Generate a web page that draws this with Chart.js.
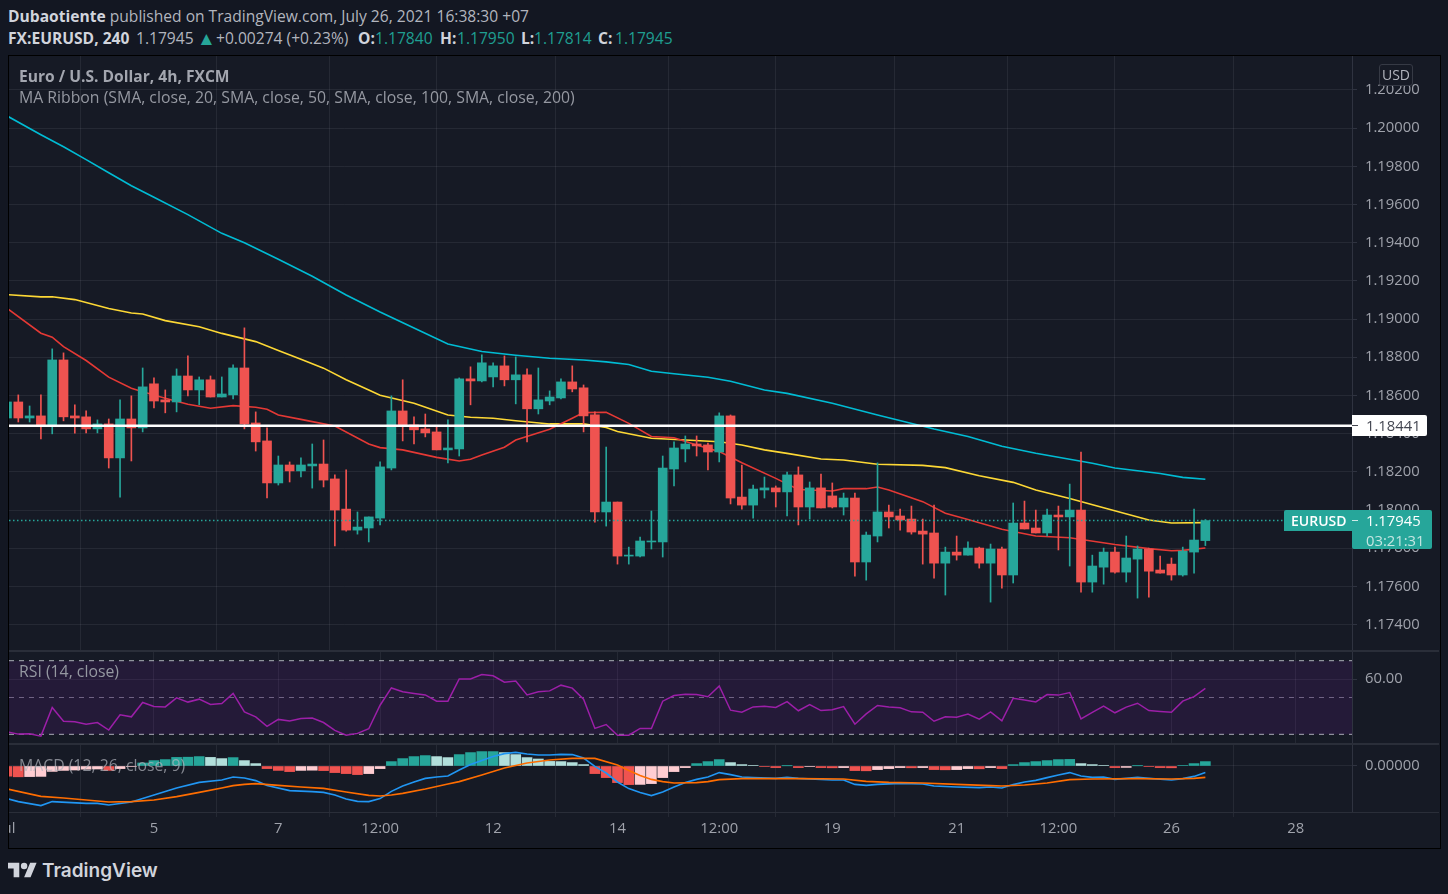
<!DOCTYPE html>
<html><head><meta charset="utf-8">
<script src="https://cdn.jsdelivr.net/npm/chart.js@4"></script>
<style>
html,body{margin:0;padding:0;background:#131722;width:1448px;height:894px;overflow:hidden;font-family:"Open Sans",sans-serif;}
.t{position:absolute;white-space:nowrap;font-size:14.8px;line-height:20px;}
.h{font-size:15.6px;}
canvas{position:absolute;}
.b{font-weight:700}
.g{color:#1f9e91}
.w{color:#d1d4dc;font-weight:700}
.ln{position:absolute;background:#2a2e39}
#h2 span{position:absolute;top:0;}
</style></head><body>
<div style="position:absolute;left:8px;top:55px;width:1431px;height:792px;border:1px solid #000;box-sizing:content-box;background:#161a25"></div>
<div class="t h" id="h1" style="left:8px;top:6px;color:#b2b5be"><span class="b" style="color:#d1d4dc">Dubaotiente</span> published on TradingView.com, July 26, 2021 16:38:30 +07</div>
<div class="t h" id="h2" style="left:8px;top:28px;color:#b2b5be;width:680px;height:20px">
<span class="w" style="left:0">FX:EURUSD, 240</span><span style="left:128px">1.17945</span><span style="left:189px;color:#26a69a;font-size:19px">▲</span><span style="left:208px">+0.00274 (+0.23%)</span><span class="w" style="left:350px">O:</span><span class="g" style="left:367px">1.17840</span><span class="w" style="left:432px">H:</span><span class="g" style="left:449px">1.17950</span><span class="w" style="left:513px">L:</span><span class="g" style="left:526px">1.17814</span><span class="w" style="left:590px">C:</span><span class="g" style="left:607px">1.17945</span></div>
<canvas id="cPrice" width="1430" height="595" style="left:9px;top:56px;width:1430px;height:595px"></canvas>
<canvas id="cRsi" width="1430" height="93" style="left:9px;top:651px;width:1430px;height:93px"></canvas>
<canvas id="cMacd" width="1430" height="103" style="left:9px;top:744px;width:1430px;height:103px"></canvas>
<div class="ln" style="left:9px;top:650px;width:1430px;height:2px"></div>
<div class="ln" style="left:9px;top:743px;width:1430px;height:2px"></div>
<div class="ln" style="left:9px;top:812px;width:1430px;height:1px"></div>
<div class="t b h" style="left:19px;top:66px;color:#a3a6af">Euro / U.S. Dollar, 4h, FXCM</div>
<div class="t" style="left:19px;top:87px;color:#9598a1;font-size:15.8px">MA Ribbon (SMA, close, 20, SMA, close, 50, SMA, close, 100, SMA, close, 200)</div>
<div class="t" style="left:19px;top:661px;color:#9598a1;font-size:15.8px">RSI (14, close)</div>
<div class="t" style="left:19px;top:755px;color:rgba(178,181,190,.7);font-size:15.8px">MACD (12, 26, close, 9)</div>
<div class="t" style="left:1379px;top:64px;width:32px;height:20px;border:1px solid #363a45;border-radius:3px;text-align:center;color:#b2b5be;background:#161a25;font-size:14px">USD</div>
<div class="t" style="left:1352px;top:415px;width:75px;height:21px;background:#fff;border-radius:0 2px 2px 0;color:#434651;line-height:21px"><span style="position:absolute;left:0;top:10px;width:6px;height:1px;background:#434651"></span><span style="position:absolute;left:14px;top:0">1.18441</span></div>
<div class="t" style="left:1284px;top:510px;width:148px;height:21px;background:#26a69a;border-radius:2px 2px 0 0;color:#fff;line-height:21px"><span style="position:absolute;left:7px;top:0;font-size:14px;font-weight:600">EURUSD</span><span style="position:absolute;left:68px;top:10px;width:6px;height:1px;background:#cfeae7"></span><span style="position:absolute;left:82px;top:0">1.17945</span></div>
<div class="t" style="left:1352px;top:531px;width:80px;height:18px;background:#26a69a;border-radius:0 0 2px 2px;color:#c4e6e2;line-height:18px"><span style="position:absolute;left:14px;top:0">03:21:31</span></div>
<svg style="position:absolute;left:8px;top:862px" width="29" height="16" viewBox="0 4 36 18"><path fill="#d1d4dc" d="M14 22H7V11H0V4h14v18zM28 22h-8l7.5-18h8L28 22z"/><circle fill="#d1d4dc" cx="20" cy="8" r="4"/></svg>
<div class="t" style="left:42px;top:859px;font-family:Inter,sans-serif;font-weight:600;font-size:19px;line-height:24px;color:#d1d4dc">TradingView</div>
<script>
const opens=[1.18482,1.18566,1.18482,1.18493,1.18440,1.18786,1.18493,1.18488,1.18425,1.18451,1.18273,1.18477,1.18430,1.18661,1.18577,1.18566,1.18702,1.18629,1.18682,1.18592,1.18603,1.18744,1.18456,1.18362,1.18142,1.18236,1.18205,1.18231,1.18241,1.18163,1.18005,1.17895,1.17906,1.17958,1.18220,1.18519,1.18446,1.18425,1.18409,1.18315,1.18320,1.18687,1.18676,1.18697,1.18755,1.18682,1.18708,1.18530,1.18571,1.18587,1.18671,1.18640,1.18498,1.17990,1.18042,1.17759,1.17759,1.17833,1.17833,1.18215,1.18320,1.18346,1.18341,1.18304,1.18493,1.18068,1.18026,1.18105,1.18116,1.18095,1.18184,1.18016,1.18116,1.18074,1.18016,1.18063,1.17728,1.17864,1.17990,1.17969,1.17953,1.17890,1.17880,1.17722,1.17780,1.17764,1.17801,1.17722,1.17796,1.17660,1.17932,1.17906,1.17880,1.17974,1.17964,1.18000,1.17623,1.17701,1.17780,1.17675,1.17743,1.17796,1.17686,1.17717,1.17660,1.17780,1.17840];
const closes=[1.18566,1.18482,1.18493,1.18440,1.18786,1.18488,1.18482,1.18425,1.18451,1.18273,1.18477,1.18430,1.18645,1.18571,1.18566,1.18702,1.18629,1.18682,1.18592,1.18608,1.18744,1.18451,1.18357,1.18142,1.18236,1.18205,1.18236,1.18241,1.18157,1.18000,1.17895,1.17911,1.17964,1.18226,1.18519,1.18440,1.18420,1.18404,1.18315,1.18325,1.18687,1.18676,1.18771,1.18755,1.18682,1.18708,1.18530,1.18577,1.18592,1.18671,1.18634,1.18493,1.17990,1.18042,1.17759,1.17764,1.17838,1.17838,1.18220,1.18325,1.18346,1.18336,1.18304,1.18493,1.18063,1.18026,1.18110,1.18116,1.18095,1.18184,1.18016,1.18116,1.18011,1.18016,1.18063,1.17728,1.17869,1.17990,1.17964,1.17948,1.17885,1.17874,1.17722,1.17780,1.17764,1.17801,1.17722,1.17796,1.17660,1.17932,1.17901,1.17880,1.17974,1.17964,1.18000,1.17623,1.17707,1.17780,1.17675,1.17749,1.17796,1.17680,1.17670,1.17660,1.17785,1.17843,1.17945];
const highs=[1.18577,1.18603,1.18545,1.18603,1.18844,1.18823,1.18551,1.18519,1.18472,1.18477,1.18577,1.18598,1.18744,1.18692,1.18629,1.18739,1.18807,1.18697,1.18702,1.18697,1.18760,1.18954,1.18514,1.18430,1.18283,1.18252,1.18273,1.18346,1.18367,1.18184,1.18210,1.17990,1.17964,1.18252,1.18598,1.18682,1.18488,1.18503,1.18440,1.18472,1.18692,1.18750,1.18813,1.18771,1.18807,1.18802,1.18739,1.18744,1.18624,1.18687,1.18755,1.18655,1.18514,1.18330,1.18042,1.17806,1.17859,1.17995,1.18283,1.18357,1.18388,1.18388,1.18351,1.18509,1.18498,1.18236,1.18131,1.18173,1.18126,1.18199,1.18226,1.18147,1.18189,1.18142,1.18089,1.18089,1.17885,1.18247,1.18026,1.18005,1.18021,1.17953,1.18026,1.17806,1.17864,1.17833,1.17806,1.17822,1.17806,1.18037,1.18047,1.18000,1.18005,1.18021,1.18136,1.18304,1.17764,1.17801,1.17806,1.17864,1.17812,1.17801,1.17759,1.17749,1.17806,1.18005,1.17950];
const lows=[1.18472,1.18461,1.18461,1.18372,1.18399,1.18467,1.18402,1.18404,1.18404,1.18220,1.18068,1.18257,1.18409,1.18535,1.18509,1.18514,1.18598,1.18551,1.18592,1.18592,1.18582,1.18425,1.18309,1.18063,1.18131,1.18147,1.18173,1.18115,1.18121,1.17812,1.17890,1.17874,1.17833,1.17922,1.18210,1.18362,1.18346,1.18383,1.18315,1.18247,1.18283,1.18551,1.18671,1.18645,1.18650,1.18556,1.18357,1.18503,1.18551,1.18582,1.18619,1.18409,1.17937,1.17916,1.17717,1.17717,1.17754,1.17796,1.17754,1.18126,1.18252,1.18283,1.18210,1.18252,1.18032,1.18005,1.17958,1.18063,1.18016,1.17969,1.17922,1.17953,1.18011,1.18011,1.17974,1.17654,1.17633,1.17833,1.17906,1.17895,1.17874,1.17717,1.17644,1.17555,1.17738,1.17764,1.17696,1.17518,1.17591,1.17618,1.17901,1.17880,1.17864,1.17791,1.17707,1.17570,1.17570,1.17612,1.17670,1.17623,1.17539,1.17544,1.17670,1.17633,1.17654,1.17670,1.17814];
const candleIdx=opens.map((_,i)=>i);

const sma20Idx=[0,3,4,5,7,9,11,12,14,16,18,20,22,23,24,26,27,29,32,33,35,38,40,41,42,44,45,48,50,51,53,55,57,59,61,63,65,68,70,73,74,76,77,78,81,83,85,88,91,94,98,101,103,104,106];
const sma20=[1.19057,1.18926,1.18905,1.18856,1.18783,1.18696,1.18638,1.18620,1.18585,1.18554,1.18533,1.18547,1.18538,1.18528,1.18498,1.18475,1.18463,1.18440,1.18346,1.18327,1.18315,1.18276,1.18257,1.18266,1.18288,1.18329,1.18367,1.18423,1.18481,1.18510,1.18512,1.18454,1.18385,1.18379,1.18341,1.18306,1.18248,1.18166,1.18108,1.18100,1.18112,1.18112,1.18121,1.18105,1.18044,1.17983,1.17951,1.17899,1.17864,1.17855,1.17820,1.17798,1.17787,1.17789,1.17801];
const sma50Idx=[0,3,4,6,9,11,12,14,17,19,22,24,26,28,30,32,33,36,39,41,43,45,48,51,53,54,57,60,63,65,67,69,72,74,77,81,83,86,89,91,94,97,101,103,106];
const sma50=[1.19128,1.19116,1.19117,1.19102,1.19055,1.19032,1.19027,1.18992,1.18960,1.18925,1.18882,1.18835,1.18790,1.18743,1.18682,1.18629,1.18601,1.18559,1.18498,1.18486,1.18481,1.18468,1.18451,1.18451,1.18432,1.18411,1.18376,1.18367,1.18358,1.18341,1.18315,1.18297,1.18267,1.18262,1.18240,1.18234,1.18222,1.18180,1.18145,1.18105,1.18061,1.18012,1.17948,1.17932,1.17934];
const sma100Idx=[0,3,5,7,9,11,13,16,19,21,24,27,30,33,36,39,42,45,48,51,53,55,57,59,62,64,67,69,73,77,82,85,88,91,94,96,98,102,104,106];
const sma100=[1.20064,1.19965,1.19902,1.19835,1.19766,1.19698,1.19638,1.19547,1.19449,1.19400,1.19313,1.19224,1.19126,1.19037,1.18953,1.18869,1.18830,1.18811,1.18795,1.18786,1.18776,1.18762,1.18727,1.18714,1.18695,1.18674,1.18629,1.18611,1.18559,1.18498,1.18424,1.18385,1.18334,1.18297,1.18266,1.18245,1.18220,1.18191,1.18171,1.18161];

const keyLevel=1.18441, lastPrice=1.17945;
const priceTicks=[1.174,1.176,1.178,1.18,1.182,1.184,1.186,1.188,1.19,1.192,1.194,1.196,1.198,1.2,1.202];
const timeTickIdx=[0,13,24,33,43,54,63,73,84,93,103,114];
const timeTickLabels=["Jul","5","7","12:00","12","14","12:00","19","21","12:00","26","28"];

const rsi=[31.4,30.1,30.3,29.0,44.6,37.1,36.8,35.5,36.4,32.3,40.6,39.5,47.3,45.1,44.9,49.8,47.5,49.1,46.2,46.7,52.2,42.2,39.5,34.3,38.1,37.3,38.6,38.8,36.4,32.1,29.5,30.5,33.0,45.8,55.2,53.1,52.2,51.4,48.0,48.0,60.1,60.1,62.5,61.8,58.3,59.0,51.4,53.1,53.6,56.7,55.1,49.1,33.2,35.3,29.5,29.5,33.2,33.2,48.0,51.1,51.8,51.6,50.4,56.3,43.1,42.0,44.9,45.3,44.6,47.8,42.8,46.2,42.9,43.3,45.1,35.5,41.1,45.7,44.9,44.4,42.2,42.0,37.1,39.5,39.3,41.0,38.2,42.2,37.3,49.6,48.7,47.6,51.6,51.3,52.7,38.4,41.9,45.3,41.7,44.8,46.9,42.9,42.4,42.0,48.0,50.5,54.9];
const rsiUpper=70, rsiMid=50, rsiLower=30, rsiTicks=[60];

// MACD pane values in units of 0.00001
const macdHist=[-51,-54,-53,-52,-27,-22,-20,-16,-15,-22,-13,-3,15,27,32,43,44,47,43,37,42,27,12,-13,-22,-28,-22,-21,-23,-33,-38,-43,-38,-13,22,37,47,52,47,42,57,67,72,72,67,57,42,35,23,22,17,7,-38,-58,-83,-93,-92,-88,-58,-28,-8,12,22,32,17,7,2,-3,-8,1,-8,-3,-8,-9,-8,-23,-24,-18,-13,-8,-9,-8,-18,-19,-18,-13,-14,-8,-13,7,17,22,27,32,33,12,7,2,-8,-7,1,-2,-8,-9,2,12,22];
const macdIdx=[0,1,3,4,7,8,9,11,13,15,17,19,20,21,22,23,25,27,28,29,30,31,32,33,34,35,36,37,38,39,40,41,42,43,44,45,46,47,48,49,50,51,52,53,54,55,56,57,58,59,60,61,62,63,64,65,66,68,69,70,73,74,75,76,77,79,81,82,84,86,87,88,89,90,91,92,93,94,95,96,97,98,99,100,101,103,104,105,106];
const macdLine=[-163,-178,-198,-178,-187,-187,-195,-180,-145,-110,-82,-70,-55,-60,-73,-98,-123,-128,-132,-145,-165,-177,-178,-163,-127,-100,-80,-62,-55,-50,-20,7,27,48,62,68,60,55,55,58,57,40,-2,-35,-80,-113,-133,-148,-130,-105,-82,-67,-55,-33,-43,-55,-58,-62,-57,-62,-70,-70,-92,-97,-92,-87,-90,-100,-105,-108,-105,-110,-93,-80,-72,-58,-45,-33,-50,-57,-55,-67,-62,-57,-62,-70,-63,-52,-33];
const signalIdx=[0,3,5,7,9,11,13,15,17,19,20,21,22,24,26,28,30,32,33,34,35,37,39,40,42,44,46,48,50,52,54,55,56,57,58,59,61,62,63,65,70,74,76,78,81,84,87,88,90,92,94,96,100,103,105,106];
const signalLine=[-115,-152,-160,-170,-180,-178,-170,-153,-132,-110,-98,-92,-88,-97,-105,-112,-130,-147,-150,-145,-137,-115,-90,-78,-45,-10,15,30,38,38,5,-22,-47,-67,-78,-85,-83,-78,-68,-63,-63,-65,-77,-82,-85,-92,-98,-100,-95,-85,-68,-65,-63,-65,-62,-57];
const macdTicks=[0];

const xMin=0.177,xMax=118.97;
const UP='#26a69a',DOWN='#ef5350',UPL='#b2dfdb',DOWNL='#ffcdd2';
const GRID='rgba(240,243,250,0.07)',AXIS='#2f3340',TXT='#a0a3ac';
const FONT={family:'"Open Sans",sans-serif',size:14.8};
Chart.defaults.font=FONT;

function xScale(showLabels){
  return {type:'linear',offset:false,min:xMin,max:xMax,
    afterBuildTicks:a=>{a.ticks=timeTickIdx.map(v=>({value:v}));},
    afterFit:a=>{a.height=showLabels?35:0;a.paddingLeft=0;a.paddingRight=0;a.paddingTop=0;a.paddingBottom=0;},
    border:{display:false},
    grid:{color:GRID,lineWidth:1,drawTicks:showLabels,tickLength:5,tickColor:GRID},
    ticks:{display:showLabels,autoSkip:false,maxRotation:0,minRotation:0,padding:3,color:TXT,font:FONT,
      callback:v=>{const k=timeTickIdx.indexOf(v);return k<0?'':timeTickLabels[k];}}};
}
function yScale(min,max,tickVals,dec){
  return {type:'linear',position:'right',min,max,
    afterBuildTicks:a=>{a.ticks=tickVals.map(v=>({value:v}));},
    afterFit:a=>{a.width=87;a.paddingTop=0;a.paddingBottom=0;a.paddingLeft=0;a.paddingRight=0;},
    border:{display:true,color:AXIS},
    grid:{color:GRID,lineWidth:1,tickLength:5,tickColor:AXIS},
    ticks:{padding:8,color:TXT,font:FONT,align:'center',crossAlign:'near',
      callback:v=>dec(v)}};
}
const baseOpts=(scales)=>({responsive:false,animation:false,devicePixelRatio:1,
  layout:{padding:0,autoPadding:false},
  plugins:{legend:{display:false},tooltip:{enabled:false},title:{display:false}},
  events:[],scales});
function lineSet(idx,vals,color,width,order){
  return {type:'line',data:idx.map((x,i)=>({x,y:vals[i]})),borderColor:color,borderWidth:width,pointRadius:0,tension:0,fill:false,order};
}

// Price pane
const candleCols=candleIdx.map(i=>closes[i]>=opens[i]?UP:DOWN);
new Chart(document.getElementById('cPrice'),{type:'bar',data:{datasets:[
  {type:'line',data:[{x:xMin,y:keyLevel},{x:xMax,y:keyLevel}],borderColor:'#ffffff',borderWidth:2.5,pointRadius:0,order:0},
  {type:'line',data:[{x:xMin,y:lastPrice},{x:xMax,y:lastPrice}],borderColor:UP,borderWidth:1.5,borderDash:[1.5,2.5],pointRadius:0,order:0},
  {data:candleIdx.map(i=>({x:i,y:[opens[i],closes[i]]})),backgroundColor:candleCols,barThickness:9,minBarLength:1,grouped:false,order:1},
  {data:candleIdx.map(i=>({x:i,y:[lows[i],highs[i]]})),backgroundColor:candleCols,barThickness:1,grouped:false,order:2},
  lineSet(sma20Idx,sma20,'#e53935',1.6,3),
  lineSet(sma50Idx,sma50,'#fdd835',1.6,3),
  lineSet(sma100Idx,sma100,'#00bcd4',1.6,3)
]},options:baseOpts({x:xScale(false),y:yScale(1.172620,1.203775,priceTicks,v=>v.toFixed(5))})});

// RSI pane
new Chart(document.getElementById('cRsi'),{type:'line',data:{datasets:[
  {data:[{x:xMin,y:rsiUpper},{x:xMax,y:rsiUpper}],borderColor:'rgba(200,203,212,.85)',borderWidth:1,borderDash:[5,5],pointRadius:0,fill:'+1',backgroundColor:'rgba(120,26,170,.15)',order:2},
  {data:[{x:xMin,y:rsiLower},{x:xMax,y:rsiLower}],borderColor:'rgba(200,203,212,.85)',borderWidth:1,borderDash:[5,5],pointRadius:0,fill:false,order:2},
  {data:[{x:xMin,y:rsiMid},{x:xMax,y:rsiMid}],borderColor:'rgba(150,150,165,.7)',borderWidth:1,borderDash:[5,5],pointRadius:0,fill:false,order:2},
  lineSet(candleIdx,rsi,'#9c1fa8',1.5,1)
]},options:baseOpts({x:xScale(false),y:yScale(24.73,75.27,rsiTicks,v=>v.toFixed(2))})});

// MACD pane
const histCols=macdHist.map((h,i)=>{const p=i?macdHist[i-1]:h+1;return h>=0?(h>=p?UP:UPL):(h<p?DOWN:DOWNL);});
new Chart(document.getElementById('cMacd'),{type:'bar',data:{datasets:[
  lineSet(signalIdx,signalLine,'#ff6d00',1.6,1),
  lineSet(macdIdx,macdLine,'#2196f3',1.6,1),
  {data:candleIdx.map(i=>({x:i,y:macdHist[i]})),backgroundColor:histCols,barThickness:10,grouped:false,order:2}
]},options:baseOpts({x:xScale(true),y:yScale(-230,110,macdTicks,v=>v.toFixed(5))})});
</script>
</body></html>
